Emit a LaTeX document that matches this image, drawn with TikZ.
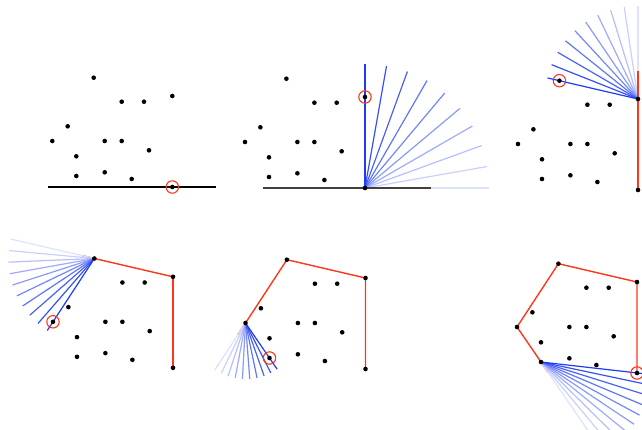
\documentclass[tikz,border=0pt]{standalone}
\usetikzlibrary{calc}

\definecolor{hullred}{RGB}{255,55,25}
\definecolor{rayblue}{RGB}{30,60,245}

\newcommand{\placepoints}{%
  \foreach \n/\px/\py in {1/93.7/77.7, 2/121.7/101.7, 3/144/101.7, 4/172.3/96,
      5/67.7/126.3, 6/52.3/141, 7/104.7/141, 8/121.7/141, 9/149/150.3,
      10/76.3/156.3, 11/76.3/176, 12/104.7/172.3, 13/131.7/179, 14/172.3/187}
    {\coordinate (p\n) at (\px,\py);}}
\newcommand{\drawdots}{%
  \foreach \n in {1,...,14}{\node[dot] (d\n) at (p\n) {};}}

\begin{document}
\begin{tikzpicture}[x=1pt, y=-1pt,
    dot/.style={circle, fill=black, inner sep=0pt, minimum size=4.6pt},
    pick/.style={circle, draw=hullred, line width=1.1pt, inner sep=0pt, minimum size=12.4pt},
    hull/.style={draw=hullred, line width=1.4pt},
    ray/.style={line width=1.2pt},
    groundline/.style={line width=1.3pt}
]
\useasboundingbox (0,0) rectangle (642,429);
\clip (0,0) rectangle (642,429);

% step 1: lowest point
\begin{scope}
  \placepoints
  \draw[groundline, draw=black] (48.3,187) -- (215.7,187);
  \drawdots
  \node[pick] (c1) at (p14) {};
\end{scope}

% step 2
\begin{scope}[shift={(192.7,1)}]
  \placepoints
  \foreach \k [evaluate=\k as \rayang using 10*\k,
               evaluate=\k as \raytint using int(15+85*\k/9)] in {0,...,9}
    \draw[ray, draw=rayblue!\raytint!white] (p14) -- ++(\rayang:124pt);
  \draw[groundline, draw=black!75] (70.3,187) -- (238,187);
  \drawdots
  \node[pick] (c2) at (p4) {};
\end{scope}

% step 3
\begin{scope}[shift={(465.7,3)}]
  \placepoints
  \foreach \k [evaluate=\k as \rayang using 90+76.9*\k/9,
               evaluate=\k as \raytint using int(15+85*\k/9)] in {0,...,9}
    \draw[ray, draw=rayblue!\raytint!white] (p4) -- ++(\rayang:93pt);
  \draw[hull] (p14) -- ($(p4)!-28pt!(p14)$);
  \drawdots
  \node[pick] (c3) at (p1) {};
\end{scope}

% step 4
\begin{scope}[shift={(0.7,180.8)}]
  \placepoints
  \draw[hull] (p14) -- (p4);
  \draw[hull] (p4) -- ($(p1)!-13pt!(p4)$);
  \foreach \k [evaluate=\k as \rayang using 166.9+69.9*\k/9,
               evaluate=\k as \raytint using int(15+85*\k/9)] in {0,...,9}
    \draw[ray, draw=rayblue!\raytint!white] (p1) -- ++(\rayang:86pt);
  \drawdots
  \node[pick] (c4) at (p6) {};
\end{scope}

% step 5
\begin{scope}[shift={(193.2,182)}]
  \placepoints
  \draw[hull] (p14) -- (p4) -- (p1);
  \draw[hull] (p1) -- ($(p6)!-14pt!(p1)$);
  \foreach \k [evaluate=\k as \rayang using 236.8+67.6*\k/9,
               evaluate=\k as \raytint using int(15+85*\k/9)] in {0,...,9}
    \draw[ray, draw=rayblue!\raytint!white] (p6) -- ++(\rayang:56pt);
  \drawdots
  \node[pick] (c5) at (p11) {};
\end{scope}

% step 6
\begin{scope}[shift={(464.7,186)}]
  \placepoints
  \draw[hull] (p14) -- (p4) -- (p1) -- (p6);
  \draw[hull] (p6) -- ($(p11)!-12.5pt!(p6)$);
  \foreach \k [evaluate=\k as \rayang using 304.4+49.1*\k/9,
               evaluate=\k as \raytint using int(15+85*\k/9)] in {0,...,9}
    \draw[ray, draw=rayblue!\raytint!white] (p11) -- ++(\rayang:112pt);
  \drawdots
  \node[pick] (c6) at (p14) {};
\end{scope}
\end{tikzpicture}
\end{document}
